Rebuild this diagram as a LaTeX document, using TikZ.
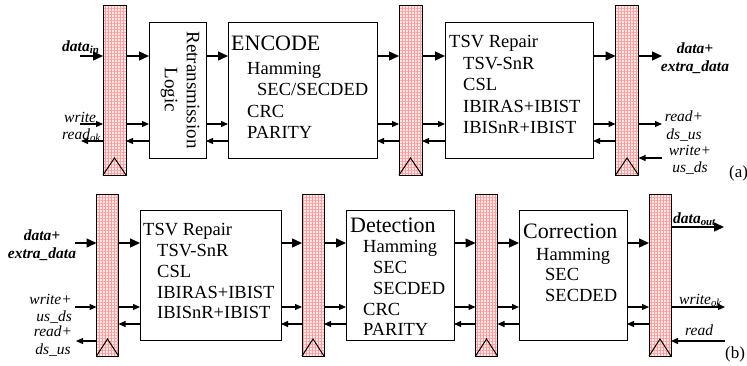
\documentclass[tikz,border=0pt]{standalone}
\usepackage{fontspec}
\setmainfont{Liberation Serif}
\usetikzlibrary{arrows.meta,patterns.meta}
\definecolor{regbg}{RGB}{255,230,230}
\definecolor{reggrid}{RGB}{248,160,160}
\begin{document}
\begin{tikzpicture}[x=1pt,y=-1pt,
  reg/.style={draw, line width=1pt, inner sep=0pt, outer sep=0pt,
    preaction={fill=regbg},
    preaction={pattern={Lines[angle=0,distance=3pt,line width=0.6pt]}, pattern color=reggrid},
    preaction={pattern={Lines[angle=90,distance=3pt,line width=0.6pt]}, pattern color=reggrid}},
  rega/.style={reg, minimum width=23pt, minimum height=170pt},
  regb/.style={reg, minimum width=22pt, minimum height=162pt},
  blk/.style={draw, line width=0.9pt, inner sep=0pt, outer sep=0pt},
  clk/.style={line width=1pt},
  dat/.style={line width=1.4pt, -{Triangle[length=10pt,width=9pt]}},
  ctl/.style={line width=1.2pt, -{Triangle[length=7pt,width=6pt]}},
  txt/.style={anchor=base west, inner sep=0pt, font=\fontsize{18.5}{21}\selectfont},
  hdr/.style={anchor=base west, inner sep=0pt, font=\fontsize{22}{24}\selectfont},
  lab/.style={inner sep=0pt, align=center, font=\fontsize{15.5}{17.5}\selectfont\itshape},
  blab/.style={lab, font=\fontsize{15.5}{17.5}\selectfont\bfseries\itshape},
  tag/.style={anchor=base west, inner sep=0pt, font=\fontsize{17}{19}\selectfont}]
\useasboundingbox (0,0) rectangle (747,365);

% ---------- row (a) ----------
\node[rega] (r1) at (114.5,90) {};
\node[rega] (r2) at (410.5,90) {};
\node[rega] (r3) at (627,90) {};
\foreach \r in {r1,r2,r3}
  \draw[clk] (\r.south west) -- ([yshift=17pt]\r.south) -- (\r.south east);

\node[blk, minimum width=57pt, minimum height=136pt] (rl) at (177.5,90) {};
\node[blk, minimum width=149pt, minimum height=136pt] (enc) at (302.5,90) {};
\node[blk, minimum width=148pt, minimum height=136pt] (tsva) at (519,90) {};

\node[inner sep=0pt, rotate=-90, align=center, font=\fontsize{19}{22}\selectfont] (rltxt) at (180,90) {Retransmission\\Logic};

\node[hdr] (enc0) at (231,50) {ENCODE};
\node[txt] (enc1) at (247,74) {Hamming};
\node[txt] (enc2) at (257,95) {SEC/SECDED};
\node[txt] (enc3) at (247,117) {CRC};
\node[txt] (enc4) at (247,138) {PARITY};

\node[txt] (ta0) at (449,47) {TSV Repair};
\node[txt] (ta1) at (463,69) {TSV-SnR};
\node[txt] (ta2) at (463,90) {CSL};
\node[txt] (ta3) at (463,112) {IBIRAS+IBIST};
\node[txt] (ta4) at (463,133) {IBISnR+IBIST};

\coordinate (ya1) at (0,56);
\coordinate (ya2) at (0,124);
\coordinate (ya3) at (0,141);
\coordinate (ya4) at (0,158);
\coordinate (ina1) at (80,56);
\coordinate (ina2) at (80,124);
\coordinate (ina3) at (81,141);
\coordinate (outa1) at (662,56);
\coordinate (outa2) at (662,124);
\coordinate (outa4) at (662,158);

\node[blab, anchor=base west] (ldin) at (62,51) {data\textsubscript{in}};
\node[lab, anchor=base west] (lwr) at (64,122) {write};
\node[lab, anchor=base west] (lrd) at (62,139) {read\textsubscript{ok}};
\node[blab] (lda) at (695,58) {data+\\extra\_data};
\node[lab] (lrda) at (684,126) {read+\\ds\_us};
\node[lab] (lwra) at (690,160) {write+\\us\_ds};
\node[tag] (taga) at (729,177) {(a)};

\draw[dat] (ina1) -- (r1.west |- ya1);
\draw[ctl] (ina2) -- (r1.west |- ya2);
\draw[ctl] (r1.west |- ya3) -- (ina3);
\foreach \a/\b in {r1/rl, rl/enc, enc/r2, r2/tsva, tsva/r3} {
  \draw[dat] (\a.east |- ya1) -- (\b.west |- ya1);
  \draw[ctl] (\a.east |- ya2) -- (\b.west |- ya2);
  \draw[ctl] (\b.west |- ya3) -- (\a.east |- ya3);
}
\draw[dat] (r3.east |- ya1) -- (outa1);
\draw[ctl] (r3.east |- ya2) -- (outa2);
\draw[ctl] (outa4) -- (r3.east |- ya4);

% ---------- row (b) ----------
\node[regb] (s1) at (107.5,275) {};
\node[regb] (s2) at (313,275) {};
\node[regb] (s3) at (486.5,275) {};
\node[regb] (s4) at (660,275) {};
\foreach \r in {s1,s2,s3,s4}
  \draw[clk] (\r.south west) -- ([yshift=17pt]\r.south) -- (\r.south east);

\node[blk, minimum width=141pt, minimum height=130pt] (tsvb) at (210.5,275) {};
\node[blk, minimum width=108pt, minimum height=130pt] (det) at (400,275) {};
\node[blk, minimum width=108pt, minimum height=130pt] (cor) at (573,275) {};

\node[txt] (tb0) at (143,235) {TSV Repair};
\node[txt] (tb1) at (157,256) {TSV-SnR};
\node[txt] (tb2) at (157,277) {CSL};
\node[txt] (tb3) at (157,298) {IBIRAS+IBIST};
\node[txt] (tb4) at (157,318) {IBISnR+IBIST};

\node[hdr] (det0) at (350,232) {Detection};
\node[txt] (det1) at (363,252) {Hamming};
\node[txt] (det2) at (373,273) {SEC};
\node[txt] (det3) at (373,294) {SECDED};
\node[txt] (det4) at (363,315) {CRC};
\node[txt] (det5) at (363,335) {PARITY};

\node[hdr] (cor0) at (523,238) {Correction};
\node[txt] (cor1) at (536,260) {Hamming};
\node[txt] (cor2) at (545,280) {SEC};
\node[txt] (cor3) at (545,301) {SECDED};

\coordinate (yb1) at (0,243);
\coordinate (yb2) at (0,307);
\coordinate (yb3) at (0,324);
\coordinate (yb4) at (0,341);
\coordinate (ybo) at (0,227);
\coordinate (inb1) at (75,243);
\coordinate (inb2) at (75,307);
\coordinate (inb4) at (76,341);
\coordinate (outb1) at (724,227);
\coordinate (outb2) at (725,307);
\coordinate (inb5) at (725,341);

\node[blab] (ldb) at (42,245) {data+\\extra\_data};
\node[lab, align=right, anchor=east] (lwrb) at (72,309) {write+\\us\_ds};
\node[lab] (lrdb) at (53,341) {read+\\ds\_us};
\node[blab, anchor=base west] (ldout) at (673,223) {data\textsubscript{out}};
\node[lab, anchor=base west] (lwok) at (679,304) {write\textsubscript{ok}};
\node[lab, anchor=base west] (lrdr) at (685,335) {read};
\node[tag] (tagb) at (725,358) {(b)};

\draw[dat] (inb1) -- (s1.west |- yb1);
\draw[ctl] (inb2) -- (s1.west |- yb2);
\draw[ctl] (s1.west |- yb4) -- (inb4);
\foreach \a/\b in {s1/tsvb, tsvb/s2, s2/det, det/s3, s3/cor, cor/s4} {
  \draw[dat] (\a.east |- yb1) -- (\b.west |- yb1);
  \draw[ctl] (\a.east |- yb2) -- (\b.west |- yb2);
  \draw[ctl] (\b.west |- yb3) -- (\a.east |- yb3);
}
\draw[dat] (s4.east |- ybo) -- (outb1);
\draw[ctl] (s4.east |- yb2) -- (outb2);
\draw[ctl] (inb5) -- (s4.east |- yb4);
\end{tikzpicture}
\end{document}
